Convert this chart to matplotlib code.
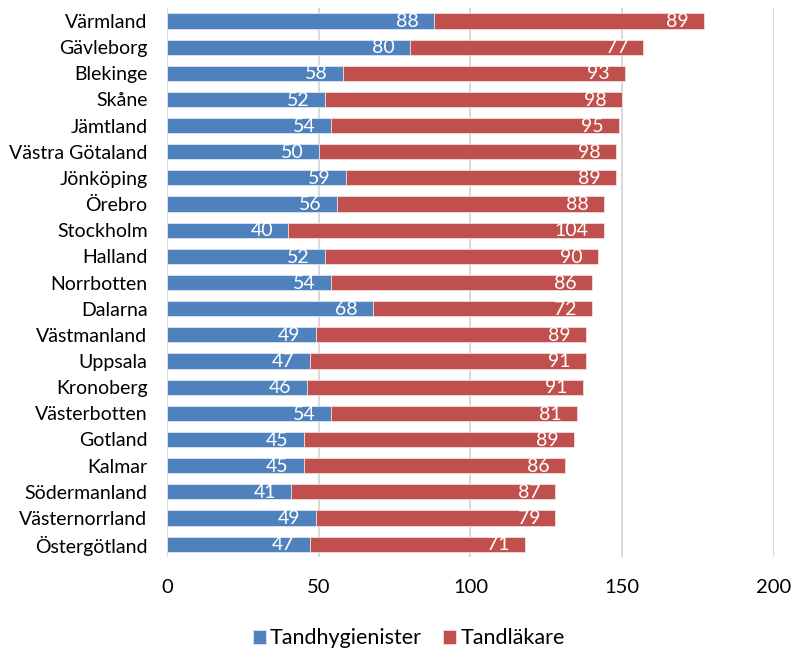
import matplotlib.pyplot as plt
import numpy as np

plt.rcParams['font.family'] = ['Lato', 'DejaVu Sans']

regions = ['Värmland', 'Gävleborg', 'Blekinge', 'Skåne', 'Jämtland',
           'Västra Götaland', 'Jönköping', 'Örebro', 'Stockholm', 'Halland',
           'Norrbotten', 'Dalarna', 'Västmanland', 'Uppsala', 'Kronoberg',
           'Västerbotten', 'Gotland', 'Kalmar', 'Södermanland',
           'Västernorrland', 'Östergötland']
hygienists = [88, 80, 58, 52, 54, 50, 59, 56, 40, 52, 54, 68, 49, 47, 46,
              54, 45, 45, 41, 49, 47]
dentists = [89, 77, 93, 98, 95, 98, 89, 88, 104, 90, 86, 72, 89, 91, 91,
            81, 89, 86, 87, 79, 71]
xticks = [0, 50, 100, 150, 200]

blue = '#4F81BD'
red = '#C0504D'

fig = plt.figure(figsize=(7.94, 6.54), dpi=100)
ax = fig.add_axes([0.2103, 0.148, 0.7645, 0.840])

y = np.arange(len(regions))[::-1]
h = np.array(hygienists)
d = np.array(dentists)

b1 = ax.barh(y, h, height=0.58, color=blue, edgecolor='#DCE6F2',
             linewidth=0.6, label='Tandhygienister', zorder=3)
b2 = ax.barh(y, d, left=h, height=0.58, color=red, edgecolor='#F2DCDB',
             linewidth=0.6, label='Tandläkare', zorder=3)

for yi, hv, dv in zip(y, h, d):
    ax.annotate(str(hv), (hv, yi), xytext=(-11, -0.5), textcoords='offset points',
                ha='right', va='center', color='white', fontsize=14, zorder=4)
    ax.annotate(str(dv), (hv + dv, yi), xytext=(-11, -0.5), textcoords='offset points',
                ha='right', va='center', color='white', fontsize=14, zorder=4)

ax.set_xlim(0, 200)
ax.set_ylim(-0.5, len(regions) - 0.5)
ax.set_xticks(xticks)
ax.set_xticklabels([str(t) for t in xticks], fontsize=14.5)
ax.set_yticks(y)
ax.set_yticklabels(regions, fontsize=14)
ax.tick_params(axis='both', length=0)
ax.tick_params(axis='x', pad=16)
ax.tick_params(axis='y', pad=14)
ax.grid(axis='x', color='#D9D9D9', linewidth=1.4, zorder=0)
for s in ax.spines.values():
    s.set_visible(False)

fig.legend(handles=[b1, b2], loc='center', bbox_to_anchor=(0.515, 0.024),
           ncol=2, frameon=False, fontsize=15.5, handlelength=0.6,
           handleheight=0.6, handletextpad=0.2, columnspacing=1.0)

fig.savefig('out.png', dpi=100)
